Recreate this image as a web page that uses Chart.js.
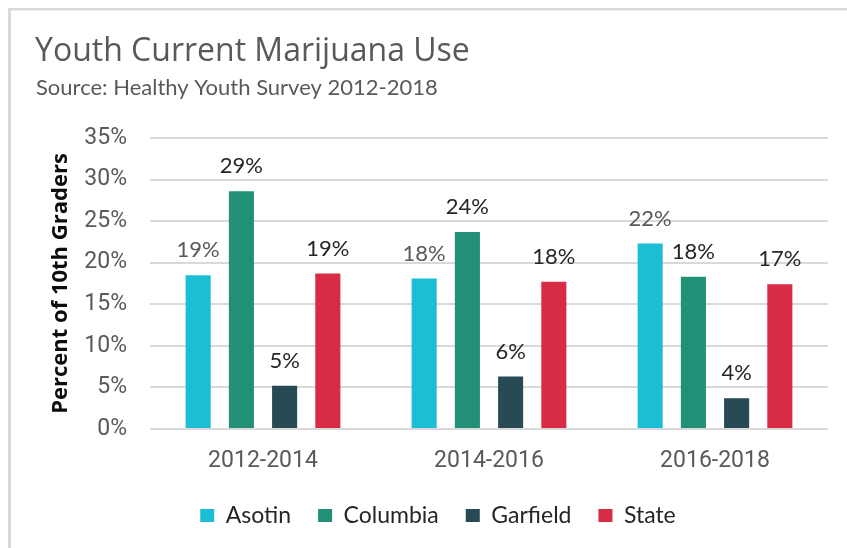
<!DOCTYPE html>
<html>
<head>
<meta charset="utf-8">
<script src="https://cdn.jsdelivr.net/npm/chart.js@4.4.1/dist/chart.umd.min.js"></script>
<style>
  html, body { margin: 0; padding: 0; background: #ffffff; }
  #wrap { width: 847px; height: 548px; }
</style>
</head>
<body>
<div id="wrap"><canvas id="c" width="847" height="548"></canvas></div>
<script>
const categories = ['2012-2014', '2014-2016', '2016-2018'];
const seriesNames = ['Asotin', 'Columbia', 'Garfield', 'State'];
const asotin   = [18.5, 18.1, 22.3];
const columbia = [28.6, 23.7, 18.3];
const garfield = [5.2, 6.3, 3.7];
const state    = [18.7, 17.7, 17.4];
const seriesColors = ['#1bbed4', '#229077', '#274a55', '#d72b46'];
const labelColors = ['#595959', '#262626', '#262626', '#262626'];
const titleText = 'Youth Current Marijuana Use';
const subtitleText = 'Source: Healthy Youth Survey 2012-2018';
const yAxisTitle = 'Percent of 10th Graders';

const seriesValues = [asotin, columbia, garfield, state];

const frameAndTitle = {
  id: 'frameAndTitle',
  beforeDraw(chart) {
    const ctx = chart.ctx;
    ctx.save();
    ctx.fillStyle = '#ffffff';
    ctx.fillRect(0, 0, chart.width, chart.height);
    ctx.fillStyle = '#d9d9d9';
    ctx.fillRect(8, 8, chart.width - 8, 2.5);
    ctx.fillRect(8, 8, 3, chart.height - 8);
    ctx.fillStyle = '#595959';
    ctx.textAlign = 'left';
    ctx.textBaseline = 'alphabetic';
    ctx.font = '32px "Open Sans"';
    ctx.fillText(titleText, 35, 61);
    ctx.font = '22px Lato';
    ctx.fillText(subtitleText, 36, 95);
    ctx.restore();
  }
};

const barLabels = {
  id: 'barLabels',
  afterDatasetsDraw(chart) {
    const ctx = chart.ctx;
    ctx.save();
    ctx.font = '22px Lato';
    ctx.textAlign = 'center';
    ctx.textBaseline = 'alphabetic';
    chart.data.datasets.forEach((ds, i) => {
      const meta = chart.getDatasetMeta(i);
      ctx.fillStyle = labelColors[i];
      meta.data.forEach((el, j) => {
        ctx.fillText(Math.round(ds.data[j]) + '%', el.x, el.y - 18);
      });
    });
    ctx.restore();
  }
};

const legendShift = {
  id: 'legendShift',
  afterLayout(chart) {
    const lg = chart.legend;
    if (lg) {
      lg.left += 24; lg.right += 24;
    }
  }
};

new Chart(document.getElementById('c'), {
  type: 'bar',
  data: {
    labels: categories,
    datasets: seriesNames.map((name, i) => ({
      label: name,
      data: seriesValues[i],
      backgroundColor: seriesColors[i],
      borderWidth: 0,
      categoryPercentage: 0.765,
      barPercentage: 0.58
    }))
  },
  options: {
    responsive: false,
    animation: false,
    devicePixelRatio: 1,
    layout: { padding: { top: 138, left: 0, right: 19, bottom: 11 } },
    plugins: {
      title: { display: false },
      tooltip: { enabled: false },
      legend: {
        position: 'bottom',
        labels: {
          boxWidth: 14,
          boxHeight: 13,
          padding: 27,
          color: '#262626',
          font: { family: 'Lato', size: 23 }
        }
      }
    },
    scales: {
      x: {
        grid: { display: false, drawTicks: false },
        border: { display: false },
        ticks: { color: '#595959', font: { family: 'Roboto', size: 23 }, padding: 18 },
        afterFit(scale) { scale.height = 48; }
      },
      y: {
        min: 0, max: 35,
        grid: { color: '#d9d9d9', lineWidth: 2, drawTicks: false },
        border: { display: false },
        ticks: {
          stepSize: 5,
          padding: 23,
          color: '#595959',
          font: { family: 'Roboto', size: 23 },
          callback: v => v + '%'
        },
        title: {
          display: true,
          text: yAxisTitle,
          color: '#0d0d0d',
          font: { family: 'Open Sans', size: 22, weight: 'bold' },
          padding: { top: 48, bottom: 0 }
        },
        afterFit(scale) { scale.width = 150; }
      }
    }
  },
  plugins: [frameAndTitle, barLabels, legendShift]
});
</script>
</body>
</html>
